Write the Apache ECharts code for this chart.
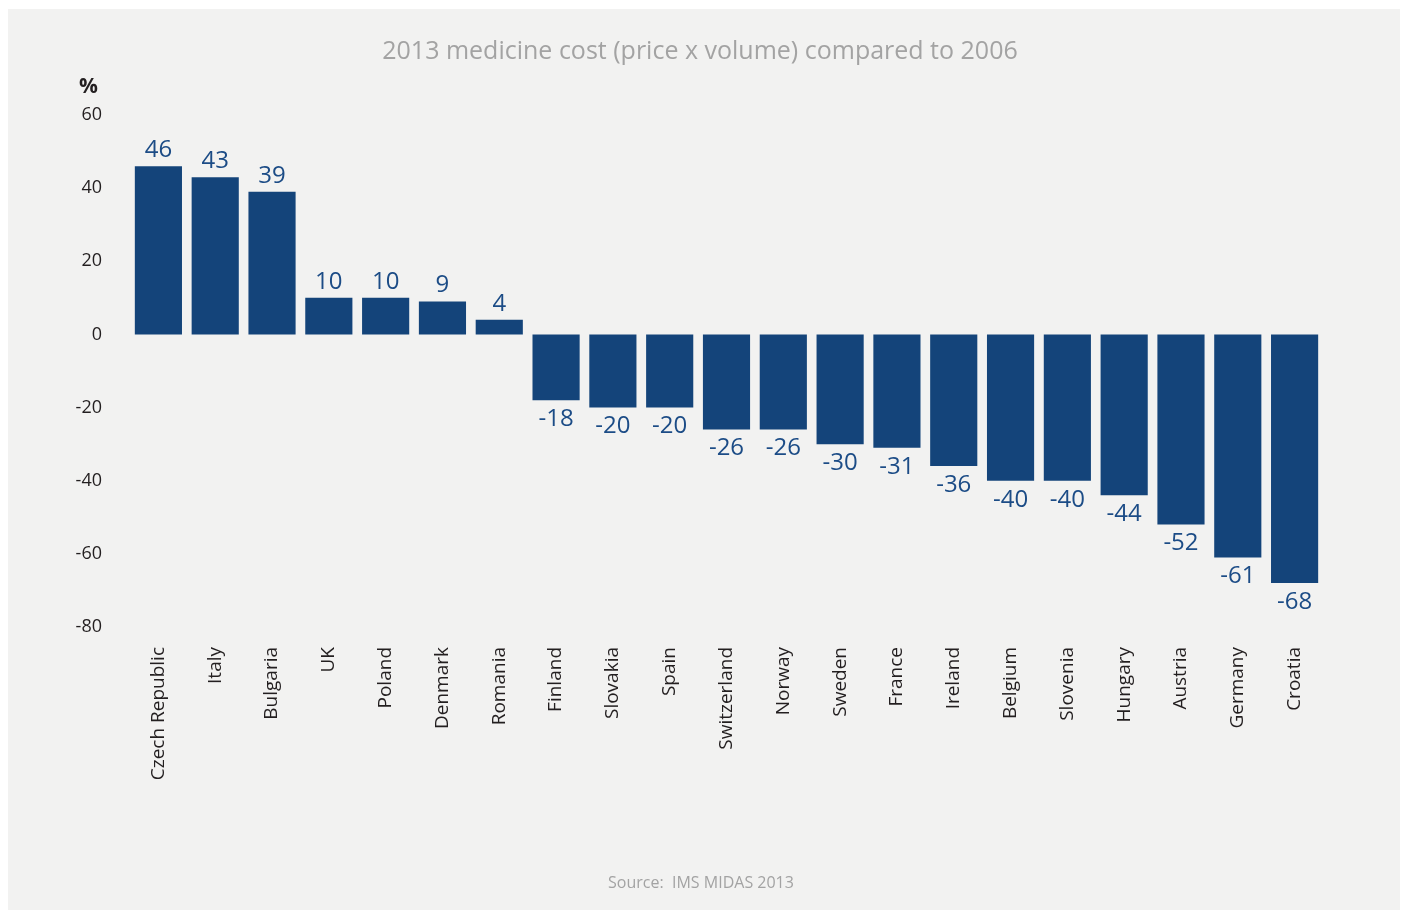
<!DOCTYPE html>
<html>
<head>
<meta charset="utf-8">
<script src="https://cdn.jsdelivr.net/npm/echarts@6/dist/echarts.min.js"></script>
<style>
  html, body { margin: 0; padding: 0; background: #ffffff; }
  #chart { width: 1402px; height: 911px; }
</style>
</head>
<body>
<div id="chart"></div>
<script>
// Change in medicine cost (price x volume), 2013 vs 2006, in percent
const countries = ['Czech Republic', 'Italy', 'Bulgaria', 'UK', 'Poland', 'Denmark', 'Romania',
  'Finland', 'Slovakia', 'Spain', 'Switzerland', 'Norway', 'Sweden', 'France', 'Ireland',
  'Belgium', 'Slovenia', 'Hungary', 'Austria', 'Germany', 'Croatia'];
const changePct = [46, 43, 39, 10, 10, 9, 4, -18, -20, -20, -26, -26, -30, -31, -36, -40, -40, -44, -52, -61, -68];
const yTicks = [60, 40, 20, 0, -20, -40, -60, -80];

const FONT = '"Open Sans", "Noto Sans", sans-serif';
const BAR = '#14447a';
const LABEL = '#1c4c86';
const INK = '#231f20';

const chart = echarts.init(document.getElementById('chart'), null, { renderer: 'canvas' });

chart.setOption({
  backgroundColor: '#ffffff',
  animation: false,
  graphic: [
    { type: 'rect', z: -10, shape: { x: 8, y: 9, width: 1392, height: 901 }, style: { fill: '#f2f2f1' } },
    { type: 'text', x: 700, y: 52, style: { text: '2013 medicine cost (price x volume) compared to 2006', fill: '#a3a3a3', font: '25px ' + FONT, align: 'center', verticalAlign: 'middle' } },
    { type: 'text', x: 79, y: 87, style: { text: '%', fill: INK, font: 'bold 21px ' + FONT, verticalAlign: 'middle' } },
    { type: 'text', x: 701, y: 883, style: { text: 'Source:  IMS MIDAS 2013', fill: '#a3a3a3', font: '16px ' + FONT, align: 'center', verticalAlign: 'middle' } }
  ],
  grid: { left: 130, right: 79, top: 115, bottom: 284, containLabel: false },
  xAxis: {
    type: 'category',
    data: countries,
    axisLine: { show: false },
    axisTick: { show: false },
    axisLabel: { rotate: 90, interval: 0, margin: 20, color: INK, fontSize: 19, fontFamily: FONT }
  },
  yAxis: {
    type: 'value',
    min: -80, max: 60, interval: 20,
    axisLine: { show: false },
    axisTick: { show: false },
    splitLine: { show: false },
    axisLabel: {
      margin: 28, color: INK, fontSize: 18, fontFamily: FONT,
      customValues: yTicks
    }
  },
  series: [{
    type: 'bar',
    barCategoryGap: '17%',
    itemStyle: { color: BAR },
    data: changePct.map(v => ({
      value: v,
      label: v >= 0 ? { position: 'top', distance: 4 } : { position: 'bottom', distance: 7 }
    })),
    label: { show: true, color: LABEL, fontSize: 24, fontFamily: FONT }
  }]
});
</script>
</body>
</html>
